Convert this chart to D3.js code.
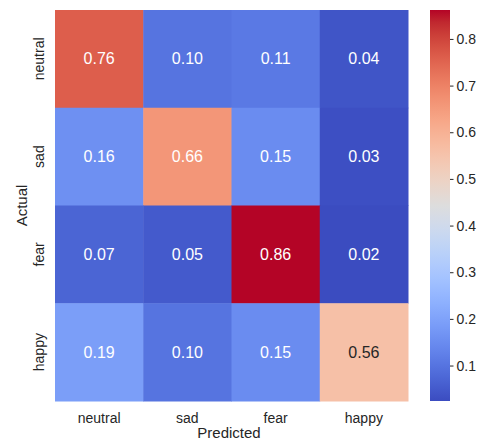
<!DOCTYPE html>
<html>
<head>
<meta charset="utf-8">
<script src="https://cdn.jsdelivr.net/npm/d3@7"></script>
<style>
  body { margin: 0; background: #fff; }
  text { font-family: "Liberation Sans", Arial, sans-serif; fill: #262626; }
</style>
</head>
<body>
<svg width="485" height="441"></svg>
<script>
"use strict"

// class labels (rows = actual, columns = predicted)
const classes = ["neutral", "sad", "fear", "happy"]

// confusion matrix rows, normalised per actual class
const neutralRow = [0.76, 0.10, 0.11, 0.04]
const sadRow     = [0.16, 0.66, 0.15, 0.03]
const fearRow    = [0.07, 0.05, 0.862, 0.024]
const happyRow   = [0.19, 0.10, 0.15, 0.56]
const matrix = [neutralRow, sadRow, fearRow, happyRow]

const colorbarTicks = [0.1, 0.2, 0.3, 0.4, 0.5, 0.6, 0.7, 0.8]

// matplotlib coolwarm (Moreland) control colours
const coolwarm = [
  [59,76,192],[68,90,204],[77,104,215],[87,117,225],[98,130,234],[108,142,241],
  [119,154,247],[130,165,251],[141,176,254],[152,185,255],[163,194,255],[174,201,253],
  [184,208,249],[194,213,244],[204,217,238],[213,219,230],[221,221,221],[229,216,209],
  [236,211,197],[241,204,185],[245,196,173],[247,187,160],[247,177,148],[247,166,135],
  [244,154,123],[241,141,111],[236,127,99],[229,112,88],[222,96,77],[213,80,66],
  [203,62,56],[192,40,47],[180,4,38]
].map(c => d3.rgb(c[0], c[1], c[2]).formatHex())

let svg = d3.select("svg")

let cells = []
matrix.forEach((row, i) => row.forEach((v, j) => cells.push({actual: classes[i], pred: classes[j], v})))

let [vmin, vmax] = d3.extent(cells, d => d.v)

let cmap = d3.scaleLinear()
  .domain(d3.range(coolwarm.length).map(i => i / (coolwarm.length - 1)))
  .range(coolwarm)
  .interpolate(d3.interpolateRgb)
let color = v => cmap((v - vmin) / (vmax - vmin))

let x = d3.scaleBand().domain(classes).range([55, 408])
let y = d3.scaleBand().domain(classes).range([10, 401])

function luminance(c) {
  let rgb = d3.rgb(c)
  let f = u => { u /= 255; return u <= 0.03928 ? u / 12.92 : Math.pow((u + 0.055) / 1.055, 2.4) }
  return 0.2126 * f(rgb.r) + 0.7152 * f(rgb.g) + 0.0722 * f(rgb.b)
}

svg.append("g")
  .selectAll("rect")
  .data(cells)
  .join("rect")
    .attr("x", d => x(d.pred))
    .attr("y", d => y(d.actual))
    .attr("width", x.bandwidth() + 0.5)
    .attr("height", y.bandwidth() + 0.5)
    .attr("fill", d => color(d.v))

// annotations: dark text only on light cells
svg.append("g")
  .selectAll("text")
  .data(cells)
  .join("text")
    .attr("x", d => x(d.pred) + x.bandwidth() / 2)
    .attr("y", d => y(d.actual) + y.bandwidth() / 2)
    .attr("dy", "0.35em")
    .attr("text-anchor", "middle")
    .style("font-size", "16px")
    .style("fill", d => luminance(color(d.v)) > 0.45 ? "#262626" : "#ffffff")
    .text(d => d3.format(".2f")(d.v))

// x tick labels
svg.append("g")
  .selectAll("text")
  .data(classes)
  .join("text")
    .attr("x", d => x(d) + x.bandwidth() / 2)
    .attr("y", 423)
    .attr("text-anchor", "middle")
    .style("font-size", "14px")
    .text(d => d)

// y tick labels, rotated
svg.append("g")
  .selectAll("text")
  .data(classes)
  .join("text")
    .attr("transform", d => `translate(44,${y(d) + y.bandwidth() / 2}) rotate(-90)`)
    .attr("text-anchor", "middle")
    .style("font-size", "14px")
    .text(d => d)

svg.append("text")
  .attr("x", 229)
  .attr("y", 438)
  .attr("text-anchor", "middle")
  .style("font-size", "15px")
  .text("Predicted")

svg.append("text")
  .attr("transform", `translate(27,${(10 + 401) / 2}) rotate(-90)`)
  .attr("text-anchor", "middle")
  .style("font-size", "15px")
  .text("Actual")

// colour bar
let cb = d3.scaleLinear().domain([vmin, vmax]).range([401, 10])

let grad = svg.append("defs").append("linearGradient")
  .attr("id", "cbgrad")
  .attr("x1", 0).attr("y1", 1).attr("x2", 0).attr("y2", 0)
grad.selectAll("stop")
  .data(coolwarm)
  .join("stop")
    .attr("offset", (d, i) => i / (coolwarm.length - 1))
    .attr("stop-color", d => d)

svg.append("rect")
  .attr("x", 430)
  .attr("y", 10)
  .attr("width", 20)
  .attr("height", 391)
  .attr("fill", "url(#cbgrad)")

let cbAxis = svg.append("g")
  .attr("transform", "translate(450,0)")
  .call(d3.axisRight(cb).tickValues(colorbarTicks).tickSize(3.5).tickPadding(3).tickFormat(d3.format(".1f")))
cbAxis.select(".domain").remove()
cbAxis.selectAll("line").attr("stroke", "#262626")
cbAxis.selectAll("text").style("font-size", "14px").attr("font-family", null).style("fill", "#262626")
</script>
</body>
</html>
